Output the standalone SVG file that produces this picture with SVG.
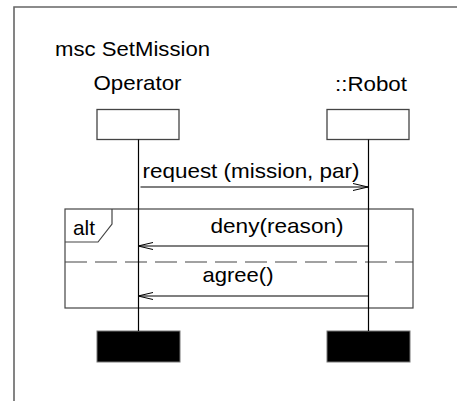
<svg xmlns="http://www.w3.org/2000/svg" width="457" height="401" viewBox="0 0 457 401">
<defs>
<style>
text{font-family:"Liberation Sans",Arial,sans-serif;font-size:21px;fill:#000}
.box{fill:#fff;stroke:#444;stroke-width:1.3}
.end{fill:#000;stroke:#777;stroke-width:1}
.life{stroke:#000;stroke-width:1.2;fill:none}
.msg{stroke:#000;stroke-width:1.1;fill:none}
.frame{fill:none;stroke:#444;stroke-width:1.2}
</style>
<marker id="open" viewBox="0 0 16 8" refX="15" refY="4" markerWidth="16" markerHeight="8" markerUnits="userSpaceOnUse" orient="auto">
<path d="M0,0.5 L15,4 L0,7.5" fill="none" stroke="#000" stroke-width="1"/>
</marker>
</defs>
<g id="diagram-frame">
<path d="M14,401 V7 H457" fill="none" stroke="#666" stroke-width="1.6"/>
<text x="55" y="55.5" textLength="155" lengthAdjust="spacingAndGlyphs">msc SetMission</text>
</g>
<g id="operator">
<text x="93.5" y="90" textLength="88" lengthAdjust="spacingAndGlyphs">Operator</text>
<rect class="box" x="97" y="109.5" width="82" height="30"/>
<rect class="end" x="97" y="331" width="83" height="31"/>
</g>
<g id="robot">
<text x="335" y="90.5" textLength="72" lengthAdjust="spacingAndGlyphs">::Robot</text>
<rect class="box" x="327" y="109.5" width="82" height="30"/>
<rect class="end" x="327" y="331" width="83" height="31"/>
</g>
<g id="alt-fragment">
<rect class="frame" x="65" y="209" width="348" height="99"/>
<path class="frame" d="M65,242 H98 L112,224 V209"/>
<text x="73" y="234.5" textLength="22" lengthAdjust="spacingAndGlyphs">alt</text>
<line x1="65" y1="262" x2="413" y2="262" stroke="#444" stroke-width="1.2" stroke-dasharray="22,8"/>
</g>
<g id="connectors">
<line class="life" x1="138.5" y1="139.5" x2="138.5" y2="331"/>
<line class="life" x1="368.5" y1="139.5" x2="368.5" y2="331"/>
<line class="msg" x1="140.5" y1="187" x2="368" y2="187" marker-end="url(#open)"/>
<line class="msg" x1="368" y1="246" x2="138" y2="246" marker-end="url(#open)"/>
<line class="msg" x1="368" y1="296" x2="138" y2="296" marker-end="url(#open)"/>
</g>
<g id="labels">
<text x="142.5" y="178" textLength="217" lengthAdjust="spacingAndGlyphs">request (mission, par)</text>
<text x="210.5" y="233" textLength="133" lengthAdjust="spacingAndGlyphs">deny(reason)</text>
<text x="202.5" y="281.5" textLength="71" lengthAdjust="spacingAndGlyphs">agree()</text>
</g>
</svg>
